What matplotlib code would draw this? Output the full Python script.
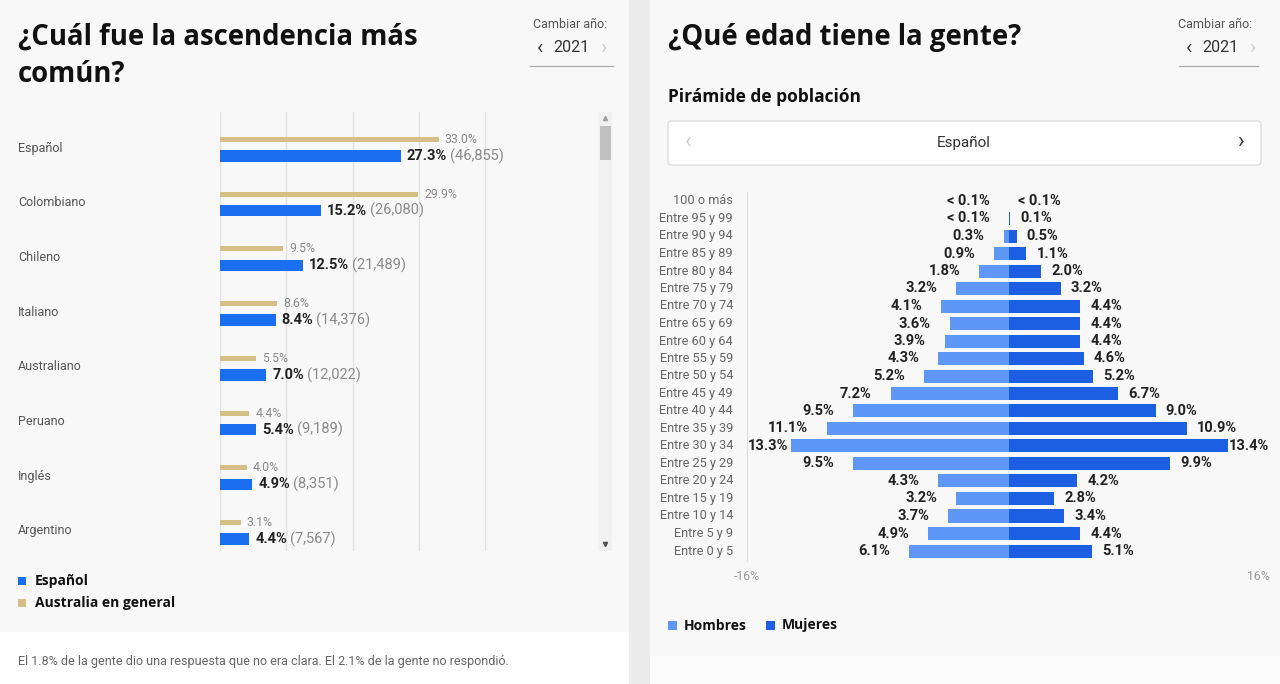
import matplotlib
matplotlib.use("Agg")
import matplotlib.pyplot as plt
from matplotlib.patches import Rectangle, FancyBboxPatch
from matplotlib.transforms import blended_transform_factory

# ---- data: ancestry (left) ----
ancestry = ["Español", "Colombiano", "Chileno", "Italiano", "Australiano",
            "Peruano", "Inglés", "Argentino"]
ancestry_pct = [27.3, 15.2, 12.5, 8.4, 7.0, 5.4, 4.9, 4.4]
ancestry_count = ["46,855", "26,080", "21,489", "14,376", "12,022", "9,189", "8,351", "7,567"]
australia_pct = [33.0, 29.9, 9.5, 8.6, 5.5, 4.4, 4.0, 3.1]

# ---- data: population pyramid (right) ----
age_groups = ["100 o más", "Entre 95 y 99", "Entre 90 y 94", "Entre 85 y 89",
              "Entre 80 y 84", "Entre 75 y 79", "Entre 70 y 74", "Entre 65 y 69",
              "Entre 60 y 64", "Entre 55 y 59", "Entre 50 y 54", "Entre 45 y 49",
              "Entre 40 y 44", "Entre 35 y 39", "Entre 30 y 34", "Entre 25 y 29",
              "Entre 20 y 24", "Entre 15 y 19", "Entre 10 y 14", "Entre 5 y 9",
              "Entre 0 y 5"]
# 0.0 stands for "< 0.1%"
men_pct = [0.0, 0.0, 0.3, 0.9, 1.8, 3.2, 4.1, 3.6, 3.9, 4.3, 5.2, 7.2,
           9.5, 11.1, 13.3, 9.5, 4.3, 3.2, 3.7, 4.9, 6.1]
women_pct = [0.0, 0.1, 0.5, 1.1, 2.0, 3.2, 4.4, 4.4, 4.4, 4.6, 5.2, 6.7,
             9.0, 10.9, 13.4, 9.9, 4.2, 2.8, 3.4, 4.4, 5.1]
pyr_ticks = [-16, 16]

W, H = 1280, 684
BLUE = "#1a6ff0"
GOLD = "#d6bf86"
MEN = "#5e97f6"
WOMEN = "#1c5fe3"
PANEL = "#f8f8f8"
TITLE_FONT = ["Open Sans", "DejaVu Sans"]
UI_FONT = ["Roboto", "DejaVu Sans"]


def px_axes(fig, x0, y0, x1, y1):
    return fig.add_axes([x0 / W, 1 - y1 / H, (x1 - x0) / W, (y1 - y0) / H])


def label_text(v):
    return "< 0.1%" if v < 0.1 else "%.1f%%" % v


def year_picker(bg, x0, x1):
    bg.text(x1 - 6, 24, "Cambiar año:", ha="right", va="center", fontsize=9,
            color="#555555", family=UI_FONT)
    bg.text(x0 + 10, 48, "‹", ha="center", va="center", fontsize=15, color="#333333",
            family=UI_FONT)
    bg.text(x0 + 41, 48, "2021", ha="center", va="center", fontsize=11.5,
            color="#333333", family=UI_FONT)
    bg.text(x0 + 73, 48, "›", ha="center", va="center", fontsize=15, color="#cccccc",
            family=UI_FONT)
    bg.plot([x0, x1], [66, 66], color="#aaaaaa", lw=0.9)


fig = plt.figure(figsize=(W / 100, H / 100), dpi=100)
fig.patch.set_facecolor("white")

bg = fig.add_axes([0, 0, 1, 1])
bg.set_xlim(0, W)
bg.set_ylim(H, 0)
bg.axis("off")

# panels
bg.add_patch(Rectangle((0, 0), 629, 632, color=PANEL, lw=0))
bg.add_patch(Rectangle((629, 0), 21, H, color="#ececec", lw=0))
bg.add_patch(Rectangle((650, 0), W - 650, 656, color=PANEL, lw=0))
bg.add_patch(Rectangle((650, 656), W - 650, H - 656, color="#fbfbfb", lw=0))

# ---------------- left panel ----------------
bg.text(18, 37, "¿Cuál fue la ascendencia más", ha="left", va="center",
        fontsize=19.8, fontweight="bold", color="#111111", family=TITLE_FONT)
bg.text(18, 74, "común?", ha="left", va="center",
        fontsize=19.8, fontweight="bold", color="#111111", family=TITLE_FONT)
year_picker(bg, 530, 613)

# scrollbar
bg.add_patch(Rectangle((598, 112), 14, 439, color="#f1f1f1", lw=0))
bg.add_patch(Rectangle((600, 126), 11, 34, color="#c1c1c1", lw=0))
bg.plot([605], [118], marker="^", ms=3, color="#a0a0a0")
bg.plot([605], [544], marker="v", ms=3, color="#505050")

PX_PER_PCT = 6.63
ax1 = px_axes(fig, 220, 112, 596, 551)
ax1.set_facecolor("none")
ax1.set_xlim(0, 376 / PX_PER_PCT)
ROW = 54.7
ax1.set_ylim(7 + 20 / ROW, -36 / ROW)
for s in ax1.spines.values():
    s.set_visible(False)
ax1.set_xticks([])
ax1.set_yticks([])
for g in range(0, 50, 10):
    ax1.axvline(g, color="#e2e2e2", lw=1, zorder=0)

rows = list(range(len(ancestry)))
ax1.barh([r - 8.5 / ROW for r in rows], australia_pct, height=5 / ROW,
         color=GOLD, zorder=2)
ax1.barh([r + 8.0 / ROW for r in rows], ancestry_pct, height=11.5 / ROW,
         color=BLUE, zorder=2)

lab_tr = blended_transform_factory(bg.transData, ax1.transData)
for r, name in enumerate(ancestry):
    ax1.text(18, r, name, transform=lab_tr, ha="left", va="center", fontsize=9,
             color="#555555", family=UI_FONT)
for r, (a, p, c) in enumerate(zip(australia_pct, ancestry_pct, ancestry_count)):
    ax1.annotate("%.1f%%" % a, (a, r - 8.5 / ROW), xytext=(6, 0),
                 textcoords="offset pixels", ha="left", va="center",
                 fontsize=8.8, color="#8a8a8a", family=UI_FONT)
    t = ax1.annotate("%.1f%%" % p, (p, r + 8.0 / ROW), xytext=(6, 0),
                     textcoords="offset pixels", ha="left", va="center",
                     fontsize=10.5, fontweight="bold", color="#222222", family=UI_FONT)
    ax1.annotate("(%s)" % c, xy=(1, 0.5), xycoords=t, xytext=(3, 0),
                 textcoords="offset pixels", ha="left", va="center",
                 fontsize=10.5, color="#8a8a8a", family=UI_FONT)

# legend
bg.add_patch(Rectangle((18, 577), 8, 8, color=BLUE, lw=0))
bg.text(35, 581, "Español", ha="left", va="center", fontsize=10,
        fontweight="bold", color="#111111", family=TITLE_FONT)
bg.add_patch(Rectangle((18, 599), 8, 8, color=GOLD, lw=0))
bg.text(35, 603, "Australia en general", ha="left", va="center", fontsize=10,
        fontweight="bold", color="#111111", family=TITLE_FONT)

bg.text(18, 661, "El 1.8% de la gente dio una respuesta que no era clara. "
        "El 2.1% de la gente no respondió.", ha="left", va="center",
        fontsize=9, color="#666666", family=UI_FONT)

# ---------------- right panel ----------------
bg.text(668, 37, "¿Qué edad tiene la gente?", ha="left", va="center",
        fontsize=19.8, fontweight="bold", color="#111111", family=TITLE_FONT)
year_picker(bg, 1179, 1258)
bg.text(668, 97, "Pirámide de población", ha="left", va="center",
        fontsize=12.5, fontweight="bold", color="#111111", family=TITLE_FONT)

bg.add_patch(FancyBboxPatch((668, 121), 593, 44, boxstyle="round,pad=0,rounding_size=3",
                            facecolor="white", edgecolor="#dedede", lw=1))
bg.text(688, 143, "‹", ha="center", va="center", fontsize=16, color="#cccccc",
        family=UI_FONT)
bg.text(964, 143, "Español", ha="center", va="center", fontsize=11,
        color="#333333", family=UI_FONT)
bg.text(1240, 143, "›", ha="center", va="center", fontsize=16, color="#333333",
        family=UI_FONT)

PROW = 17.5
ax2 = px_axes(fig, 747, 192, 1270, 561)
ax2.set_facecolor("none")
ax2.set_xlim(-16, 16)
n = len(age_groups)
ax2.set_ylim(n - 1 + 10 / PROW, -9 / PROW)
for k, s in ax2.spines.items():
    s.set_visible(k == "left")
ax2.spines["left"].set_color("#dddddd")
ax2.set_yticks([])
ax2.set_xticks(pyr_ticks)
ax2.set_xticklabels([])
ax2.tick_params(axis="x", length=0)

yrows = list(range(n))
ax2.barh(yrows, [-v for v in men_pct], height=13 / PROW, color=MEN, zorder=2)
ax2.barh(yrows, women_pct, height=13 / PROW, color=WOMEN, zorder=2)

age_tr = blended_transform_factory(bg.transData, ax2.transData)
for r, name in enumerate(age_groups):
    ax2.text(733, r, name, transform=age_tr, ha="right", va="center",
             fontsize=9.2, color="#666666", family=UI_FONT)

VAL_FS = 10.5
for r, (m, w) in enumerate(zip(men_pct, women_pct)):
    if m > 12:
        ax2.annotate(label_text(m), (-16, r), xytext=(1, 0), textcoords="offset pixels",
                     ha="left", va="center", fontsize=VAL_FS, fontweight="bold",
                     color="#222222", family=UI_FONT)
    else:
        ax2.annotate(label_text(m), (-m, r), xytext=(-19, 0), textcoords="offset pixels",
                     ha="right", va="center", fontsize=VAL_FS, fontweight="bold",
                     color="#222222", family=UI_FONT)
    if w > 12:
        ax2.annotate(label_text(w), (16, r), xytext=(-1, 0), textcoords="offset pixels",
                     ha="right", va="center", fontsize=VAL_FS, fontweight="bold",
                     color="#222222", family=UI_FONT)
    else:
        ax2.annotate(label_text(w), (w, r), xytext=(10, 0), textcoords="offset pixels",
                     ha="left", va="center", fontsize=VAL_FS, fontweight="bold",
                     color="#222222", family=UI_FONT)

tick_tr = blended_transform_factory(ax2.transData, bg.transData)
ax2.text(pyr_ticks[0], 576, "%d%%" % pyr_ticks[0], transform=tick_tr, ha="center",
         va="center", fontsize=8.8, color="#999999", family=UI_FONT)
ax2.text(pyr_ticks[1], 576, "%d%%" % pyr_ticks[1], transform=tick_tr, ha="right",
         va="center", fontsize=8.8, color="#999999", family=UI_FONT)

bg.add_patch(Rectangle((668, 621), 9, 9, color=MEN, lw=0))
bg.text(684, 625.5, "Hombres", ha="left", va="center", fontsize=10,
        fontweight="bold", color="#111111", family=TITLE_FONT)
bg.add_patch(Rectangle((766, 621), 9, 9, color=WOMEN, lw=0))
bg.text(782, 625.5, "Mujeres", ha="left", va="center", fontsize=10,
        fontweight="bold", color="#111111", family=TITLE_FONT)

fig.savefig("out.png", dpi=100, facecolor=fig.get_facecolor())
